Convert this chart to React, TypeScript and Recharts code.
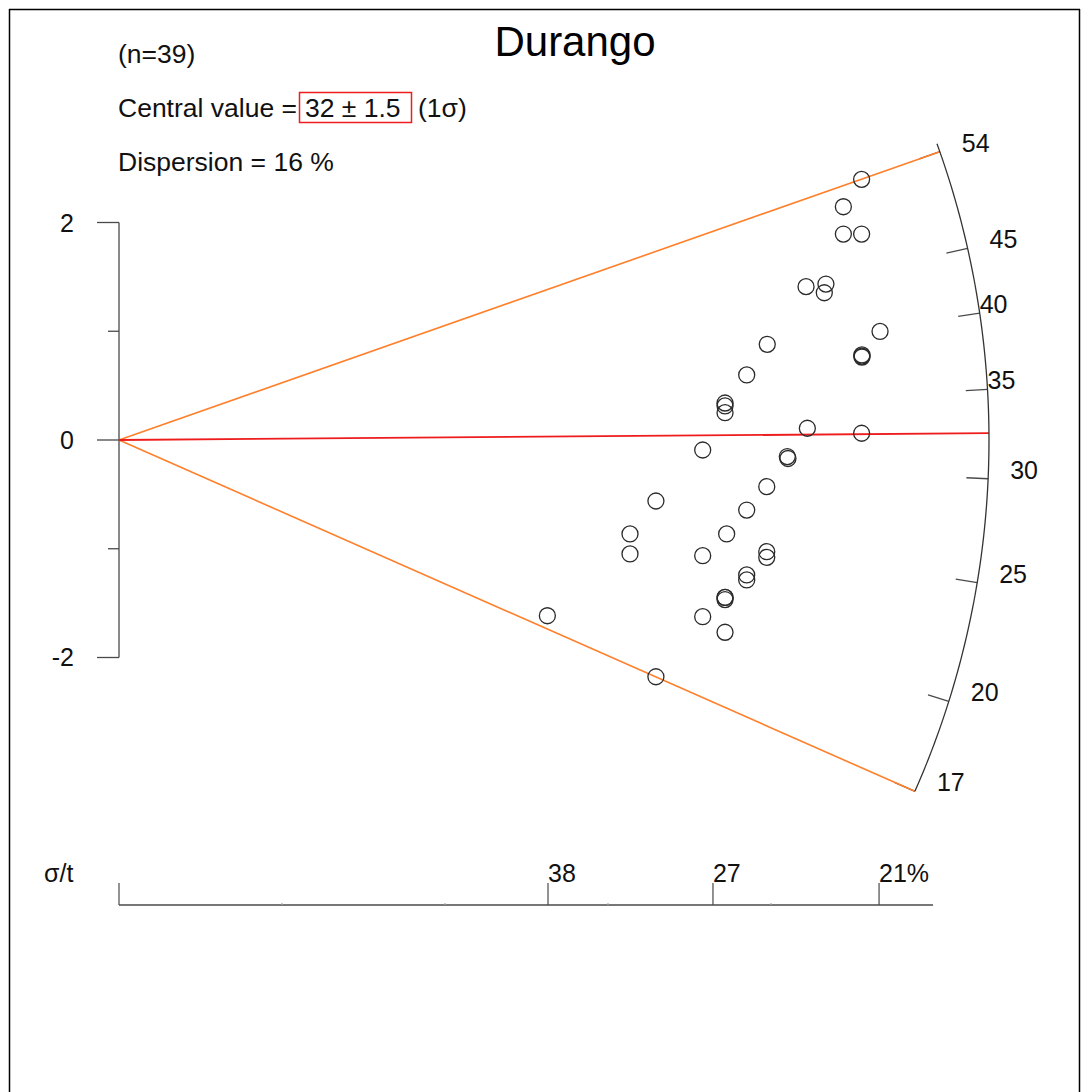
import React from 'react';
import { ScatterChart, Scatter, XAxis, YAxis, ReferenceLine } from 'recharts';

// ---- data ----
// precision (1 / relative error) of each grain
const precision = [
  4.556, 4.444, 4.444, 4.556, 4.215, 4.337, 4.327, 4.669, 4.558, 4.558,
  3.977, 3.851, 3.718, 3.718, 3.718, 4.223, 4.556, 3.581, 4.100, 4.104,
  3.974, 3.294, 3.851, 3.135, 3.728, 3.135, 3.581, 3.974, 3.974, 3.851,
  3.851, 3.718, 3.718, 2.628, 3.581, 3.718, 3.294, 3.718, 4.558,
];
// standardised estimate of each grain
const standardised = [
  2.397, 2.145, 1.894, 1.894, 1.410, 1.434, 1.354, 0.998, 0.782, 0.763,
  0.880, 0.598, 0.340, 0.313, 0.251, 0.108, 0.062, -0.092, -0.152, -0.170,
  -0.429, -0.561, -0.644, -0.864, -0.864, -1.048, -1.064, -1.027, -1.079, -1.241,
  -1.287, -1.448, -1.467, -1.616, -1.625, -1.768, -2.177, -1.448, 0.772,
];
const refLogAge = 3.468;          // reference value z0 = ln(t0)
const centralAge = 32.45;         // central value line
const minAge = 16.55;
const maxAge = 54.3;
const arcTopAge = 55.2;
const arcTickAges = [20, 25, 30, 35, 40, 45];
const arcEndLabels = ['17', '54'];
const yTicks = [-2, -1, 0, 1, 2];
const xTicks = [0, 1, 2, 3, 4, 2.632, 3.644, 4.663];
const xTickLabels: Record<string, string> = { '2.632': '38', '3.644': '27', '4.663': '21%' };
const xAxisEnd = 4.994;

const title = 'Durango';
const nText = '(n=39)';
const centralText = '32 ± 1.5';
const dispersionText = 'Dispersion = 16 %';

// label horizontal nudges (style only)
const labelDx: Record<string, number> = { '35': 0, '40': 0 };
const LABEL_DX = 22;

// ---- geometry of the age scale (ellipse in data units = circle on screen) ----
const ARC_A = 5.3374;
const ARC_B = 8.0;
const phiOf = (t: number) => Math.atan((Math.log(t) - refLogAge) * ARC_A / ARC_B);
const onArc = (t: number, f = 1) => {
  const p = phiOf(t);
  return { x: f * ARC_A * Math.cos(p), y: f * ARC_B * Math.sin(p) };
};

const points = precision.map((x, i) => ({ x, y: standardised[i] }));

const arcLine = (() => {
  const a = phiOf(minAge);
  const b = phiOf(arcTopAge);
  const n = 90;
  const out: { x: number; y: number }[] = [];
  for (let i = 0; i <= n; i++) {
    const p = a + ((b - a) * i) / n;
    out.push({ x: ARC_A * Math.cos(p), y: ARC_B * Math.sin(p) });
  }
  return out;
})();

const tickAges = [minAge, ...arcTickAges, maxAge];
const arcLabels = [
  { ...onArc(minAge), label: arcEndLabels[0] },
  ...arcTickAges.map((t) => ({ ...onArc(t), label: String(t) })),
  { ...onArc(maxAge), label: arcEndLabels[1] },
];

const FONT = '"Liberation Sans", Arial, Helvetica, sans-serif';
const AXIS = '#4a4a4a';

const YTick = (props: any) => {
  const { x, y, payload } = props;
  const v = payload.value;
  const major = v % 2 === 0;
  return (
    <g>
      <line x1={x} x2={x - (major ? 22 : 11)} y1={y} y2={y} stroke={AXIS} strokeWidth={1.3} />
      {major && (
        <text x={x - 45} y={y} textAnchor="end" dominantBaseline="central" fontSize={25} fontFamily={FONT} fill="#111">
          {v}
        </text>
      )}
    </g>
  );
};

const XTick = (props: any) => {
  const { x, y, payload } = props;
  const v = payload.value;
  const label = xTickLabels[String(v)];
  const major = v === 0 || label !== undefined;
  return (
    <g>
      <line x1={x} x2={x} y1={y} y2={y - (major ? 22 : 2)} stroke={major ? AXIS : '#aaa'} strokeWidth={1.2} />
      {label && (
        <text x={x} y={y - 23} textAnchor="start" fontSize={25} fontFamily={FONT} fill="#111">
          {label}
        </text>
      )}
    </g>
  );
};

const Circle = (props: any) => (
  <circle cx={props.cx} cy={props.cy} r={8} fill="none" stroke="#2a2a2a" strokeWidth={1.3} />
);
const Nothing = () => <g />;
const ArcLabel = (props: any) => {
  const lab = props.payload?.label;
  const dx = labelDx[lab] ?? LABEL_DX;
  return (
    <text x={props.cx + dx} y={props.cy - 9} textAnchor="start" dominantBaseline="central" fontSize={25} fontFamily={FONT} fill="#111">
      {lab}
    </text>
  );
};

export default function App() {
  const origin = { x: 0, y: 0 };
  return (
    <div style={{ position: 'absolute', left: 0, top: 0, width: 1090, height: 1092, background: '#fff' }}>
      <ScatterChart width={1090} height={1092} margin={{ top: 0, right: 0, bottom: 0, left: 0 }}>
        <XAxis
          type="number"
          dataKey="x"
          domain={[0, 5.9571]}
          ticks={xTicks}
          interval={0}
          height={187}
          axisLine={false}
          tickLine={false}
          tickSize={0}
          tickMargin={0}
          tick={<XTick />}
        />
        <YAxis
          type="number"
          dataKey="y"
          domain={[-4.2759, 4.046]}
          ticks={yTicks}
          interval={0}
          width={119}
          axisLine={false}
          tickLine={false}
          tickSize={0}
          tickMargin={0}
          tick={<YTick />}
        />
        <ReferenceLine segment={[{ x: 0, y: -2 }, { x: 0, y: 2 }]} stroke={AXIS} strokeWidth={1.3} />
        <ReferenceLine segment={[{ x: 0, y: -4.2759 }, { x: xAxisEnd, y: -4.2759 }]} stroke={AXIS} strokeWidth={1.3} ifOverflow="visible" />
        {tickAges.map((t, i) => (
          <ReferenceLine key={'t' + i} segment={[onArc(t, 0.975), onArc(t, 1)]} stroke={AXIS} strokeWidth={1.3} />
        ))}
        <Scatter data={arcLine} line={{ stroke: '#333', strokeWidth: 1.3 }} lineType="joint" shape={<Nothing />} isAnimationActive={false} />
        <ReferenceLine segment={[origin, onArc(maxAge)]} stroke="#ff7f2a" strokeWidth={1.6} />
        <ReferenceLine segment={[origin, onArc(minAge)]} stroke="#ff7f2a" strokeWidth={1.6} />
        <ReferenceLine segment={[origin, onArc(centralAge)]} stroke="#ee1c1c" strokeWidth={1.8} />
        <Scatter data={points} shape={<Circle />} isAnimationActive={false} />
        <Scatter data={arcLabels} shape={<ArcLabel />} isAnimationActive={false} />
      </ScatterChart>
      <svg width={1090} height={1092} style={{ position: 'absolute', left: 0, top: 0, pointerEvents: 'none' }}>
        <line x1={9.5} y1={9} x2={9.5} y2={1092} stroke="#000" strokeWidth={1.5} />
        <line x1={9} y1={9.5} x2={1080} y2={9.5} stroke="#000" strokeWidth={1.5} />
        <line x1={1079.5} y1={9} x2={1079.5} y2={1092} stroke="#000" strokeWidth={1.5} />
        <text x={575} y={56} textAnchor="middle" fontSize={42} fontFamily={FONT} fill="#000">{title}</text>
        <text x={118} y={63} fontSize={26.5} fontFamily={FONT} fill="#111">{nText}</text>
        <text x={118} y={117} fontSize={26.5} fontFamily={FONT} fill="#111">Central value =</text>
        <rect x={299.5} y={92.5} width={112} height={30} fill="none" stroke="#ee1c1c" strokeWidth={1.5} />
        <text x={305} y={117} fontSize={26.5} fontFamily={FONT} fill="#111">{centralText}</text>
        <text x={418} y={117} fontSize={26.5} fontFamily={FONT} fill="#111">(1σ)</text>
        <text x={118} y={171} fontSize={26.5} fontFamily={FONT} fill="#111">{dispersionText}</text>
        <text x={44} y={882} fontSize={25} fontFamily={FONT} fill="#111">σ/t</text>
      </svg>
    </div>
  );
}
